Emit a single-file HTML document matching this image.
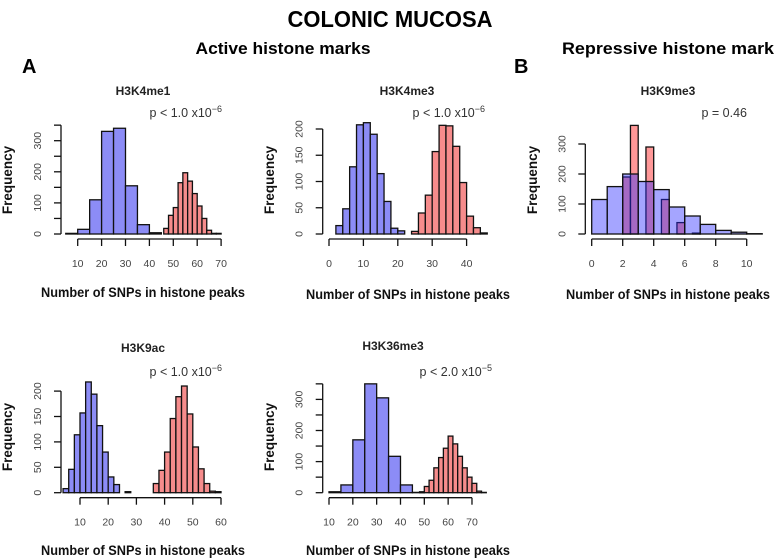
<!DOCTYPE html>
<html><head><meta charset="utf-8"><style>
body{margin:0;background:#fff;}
svg{display:block;font-family:"Liberation Sans",Arial,sans-serif;}
</style></head><body>
<svg id="fig" width="778" height="560" viewBox="0 0 778 560">
<text x="390" y="27" text-anchor="middle" font-size="23" font-weight="bold" textLength="205" lengthAdjust="spacingAndGlyphs">COLONIC MUCOSA</text>
<text x="283" y="54" text-anchor="middle" font-size="17" font-weight="bold" textLength="175" lengthAdjust="spacingAndGlyphs">Active histone marks</text>
<text x="668" y="54" text-anchor="middle" font-size="17" font-weight="bold" textLength="212" lengthAdjust="spacingAndGlyphs">Repressive histone mark</text>
<text x="22" y="73" font-size="20" font-weight="bold">A</text>
<text x="514" y="73" font-size="20" font-weight="bold">B</text>
</svg>
<script>
// ---- data (counts per bin; bins start at *Start, width *Width, axis units) ----
const k4me1BlueStart = 5, k4me1BlueWidth = 5;
const k4me1Blue = [2, 15, 110, 330, 340, 155, 30, 4];
const k4me1RedStart = 46, k4me1RedWidth = 2;
const k4me1Red = [18, 60, 85, 165, 197, 170, 130, 90, 50, 12, 2, 2];

const k4me3BlueStart = 2, k4me3BlueWidth = 2;
const k4me3Blue = [16, 48, 128, 208, 212, 190, 115, 62, 11, 6];
const k4me3RedStart = 24, k4me3RedWidth = 2;
const k4me3Red = [5, 40, 74, 157, 207, 206, 167, 98, 34, 12, 2];

const k9me3BlueStart = 0, k9me3BlueWidth = 1;
const k9me3Blue = [115, 158, 200, 175, 148, 90, 60, 32, 12, 6, 1];
const k9me3RedStart = 2, k9me3RedWidth = 0.5;
const k9me3Red = [190, 362, 0, 290, 0, 115, 0, 38, 0, 3];

const k9acBlueStart = 4, k9acBlueWidth = 2;
const k9acBlue = [8, 46, 114, 157, 218, 194, 132, 80, 31, 16, 0, 2];
const k9acRedStart = 36, k9acRedWidth = 2;
const k9acRed = [18, 44, 80, 146, 189, 210, 155, 90, 47, 18, 3, 2];

const k36BlueStart = 10, k36BlueWidth = 5;
const k36Blue = [3, 25, 170, 350, 305, 117, 25, 1];
const k36RedStart = 48, k36RedWidth = 2;
const k36Red = [3, 20, 40, 80, 113, 143, 182, 157, 117, 80, 50, 30, 5, 1];

const k4me1XTicks = [10, 20, 30, 40, 50, 60, 70];
const k4me3XTicks = [0, 10, 20, 30, 40];
const k9me3XTicks = [0, 2, 4, 6, 8, 10];
const k9acXTicks = [10, 20, 30, 40, 50, 60];
const k36XTicks = [10, 20, 30, 40, 50, 60, 70];
const k4me1YTicks = [0, 50, 100, 150, 200, 250, 300, 350];
const k4me3YTicks = [0, 50, 100, 150, 200];
const k9me3YTicks = [0, 100, 200, 300];
const k9acYTicks = [0, 50, 100, 150, 200];
const k36YTicks = [0, 50, 100, 150, 200, 250, 300, 350];

const panelTitles = ["H3K4me1", "H3K4me3", "H3K9me3", "H3K9ac", "H3K36me3"];
const pMain = ["p < 1.0 x10", "p < 1.0 x10", "p = 0.46", "p < 1.0 x10", "p < 2.0 x10"];
const pExp = ["−6", "−6", "", "−6", "−5"];

const NS = "http://www.w3.org/2000/svg";
const svg = document.getElementById("fig");
function mk(tag, attrs, parent) {
  const e = document.createElementNS(NS, tag);
  for (const k in attrs) e.setAttribute(k, attrs[k]);
  (parent || svg).appendChild(e);
  return e;
}

function panel(o) {
  const g = mk("g", {});
  
  
  const xs = v => o.x0 + (v - o.xv0) * o.xk;
  const ys = v => o.y0 - v * o.yk;
  function bars(start, w, arr, fill, series) {
    arr.forEach((c, i) => {
      if (c <= 0) return;
      const a = start + i * w, b = a + w;
      const r = mk("rect", {x: xs(a), y: ys(c), width: xs(b) - xs(a), height: ys(0) - ys(c),
        fill: fill, stroke: "#111", "stroke-width": 1.3}, g);
      
      
    });
  }
  bars(o.rs, o.rw, o.red, o.redFill, 'red');
  bars(o.bs, o.bw, o.blue, o.blueFill, 'blue');
  const xa = mk("g", {}, g);
  
  
  const xt = o.xticks;
  mk("line", {x1: xs(xt[0]), x2: xs(xt[xt.length - 1]), y1: o.ax, y2: o.ax, stroke: "#111", "stroke-width": 1.3}, xa);
  xt.forEach(t => {
    mk("line", {x1: xs(t), x2: xs(t), y1: o.ax, y2: o.ax + 7, stroke: "#111", "stroke-width": 1.3}, xa);
    const tx = mk("text", {x: xs(t), y: o.ax + 28, "text-anchor": "middle", "font-size": 10.5, fill: "#444"}, xa);
    tx.textContent = t;
  });
  const ya = mk("g", {}, g);
  
  
  const yt = o.yticks;
  mk("line", {x1: o.yx, x2: o.yx, y1: ys(yt[0]), y2: ys(yt[yt.length - 1]), stroke: "#111", "stroke-width": 1.3}, ya);
  yt.forEach(t => {
    mk("line", {x1: o.yx - 7, x2: o.yx, y1: ys(t), y2: ys(t), stroke: "#111", "stroke-width": 1.3}, ya);
    if (t % o.ylab === 0) {
      const tx = mk("text", {x: 0, y: 0, "text-anchor": "middle", "font-size": 10.5, fill: "#444",
        transform: `translate(${o.yx - 20},${ys(t)}) rotate(-90)`}, ya);
      tx.textContent = t;
    }
  });
  const ttl = mk("text", {x: o.tx, y: o.ty, "text-anchor": "middle", "font-size": 12, "font-weight": "bold", fill: "#222"}, g);
  ttl.textContent = o.title;
  
  
  const pt = mk("text", {x: o.px, y: o.py, "text-anchor": "end", "font-size": 12.5, fill: "#333"}, g);
  
  
  const s1 = mk("tspan", {}, pt); s1.textContent = o.p;
  if (o.pe) { const s2 = mk("tspan", {dy: -5, "font-size": 9}, pt); s2.textContent = o.pe; }
  const fl = mk("text", {x: 0, y: 0, "text-anchor": "middle", "font-size": 13.5, "font-weight": "bold", fill: "#111",
    transform: `translate(${o.fx},${o.fy}) rotate(-90)`}, g);
  fl.textContent = "Frequency";
  
  
  const xl = mk("text", {x: o.lx, y: o.ly, "text-anchor": "middle", "font-size": 13.5, "font-weight": "bold", fill: "#111",
    textLength: 204, lengthAdjust: "spacingAndGlyphs"}, g);
  xl.textContent = "Number of SNPs in histone peaks";
  
  
}

const BL = "rgb(140,140,246)", RD = "rgb(246,140,140)";
panel({key: "h3k4me1", x0: 77.7, xv0: 10, xk: 2.39, y0: 234, yk: 0.311, ax: 239, yx: 61,
  blue: k4me1Blue, bs: k4me1BlueStart, bw: k4me1BlueWidth, red: k4me1Red, rs: k4me1RedStart, rw: k4me1RedWidth,
  blueFill: BL, redFill: RD, xticks: k4me1XTicks, yticks: k4me1YTicks, ylab: 100,
  title: panelTitles[0], tx: 143, ty: 95, p: pMain[0], pe: pExp[0], px: 222, py: 117,
  fx: 12, fy: 180, lx: 143, ly: 297});
panel({key: "h3k4me3", x0: 329, xv0: 0, xk: 3.44, y0: 234, yk: 0.525, ax: 239, yx: 322.7,
  blue: k4me3Blue, bs: k4me3BlueStart, bw: k4me3BlueWidth, red: k4me3Red, rs: k4me3RedStart, rw: k4me3RedWidth,
  blueFill: BL, redFill: RD, xticks: k4me3XTicks, yticks: k4me3YTicks, ylab: 50,
  title: panelTitles[1], tx: 407, ty: 95, p: pMain[1], pe: pExp[1], px: 485, py: 117,
  fx: 274, fy: 180, lx: 408, ly: 299});
panel({key: "h3k9me3", x0: 591.7, xv0: 0, xk: 15.5, y0: 234, yk: 0.3, ax: 239, yx: 585.3,
  blue: k9me3Blue, bs: k9me3BlueStart, bw: k9me3BlueWidth, red: k9me3Red, rs: k9me3RedStart, rw: k9me3RedWidth,
  blueFill: "rgba(40,40,255,0.42)", redFill: "rgba(255,40,40,0.48)", xticks: k9me3XTicks, yticks: k9me3YTicks, ylab: 100,
  title: panelTitles[2], tx: 668, ty: 95, p: pMain[2], pe: pExp[2], px: 747, py: 117,
  fx: 537, fy: 180, lx: 668, ly: 299});
panel({key: "h3k9ac", x0: 80, xv0: 10, xk: 2.82, y0: 492.7, yk: 0.508, ax: 497.7, yx: 61,
  blue: k9acBlue, bs: k9acBlueStart, bw: k9acBlueWidth, red: k9acRed, rs: k9acRedStart, rw: k9acRedWidth,
  blueFill: BL, redFill: RD, xticks: k9acXTicks, yticks: k9acYTicks, ylab: 50,
  title: panelTitles[3], tx: 143, ty: 352, p: pMain[3], pe: pExp[3], px: 222, py: 376,
  fx: 12, fy: 437, lx: 143, ly: 555});
panel({key: "h3k36me3", x0: 329, xv0: 10, xk: 2.383, y0: 492.7, yk: 0.311, ax: 497.7, yx: 322.7,
  blue: k36Blue, bs: k36BlueStart, bw: k36BlueWidth, red: k36Red, rs: k36RedStart, rw: k36RedWidth,
  blueFill: BL, redFill: RD, xticks: k36XTicks, yticks: k36YTicks, ylab: 100,
  title: panelTitles[4], tx: 393, ty: 350, p: pMain[4], pe: pExp[4], px: 492, py: 376,
  fx: 274, fy: 437, lx: 408, ly: 555});
</script>
</body></html>
